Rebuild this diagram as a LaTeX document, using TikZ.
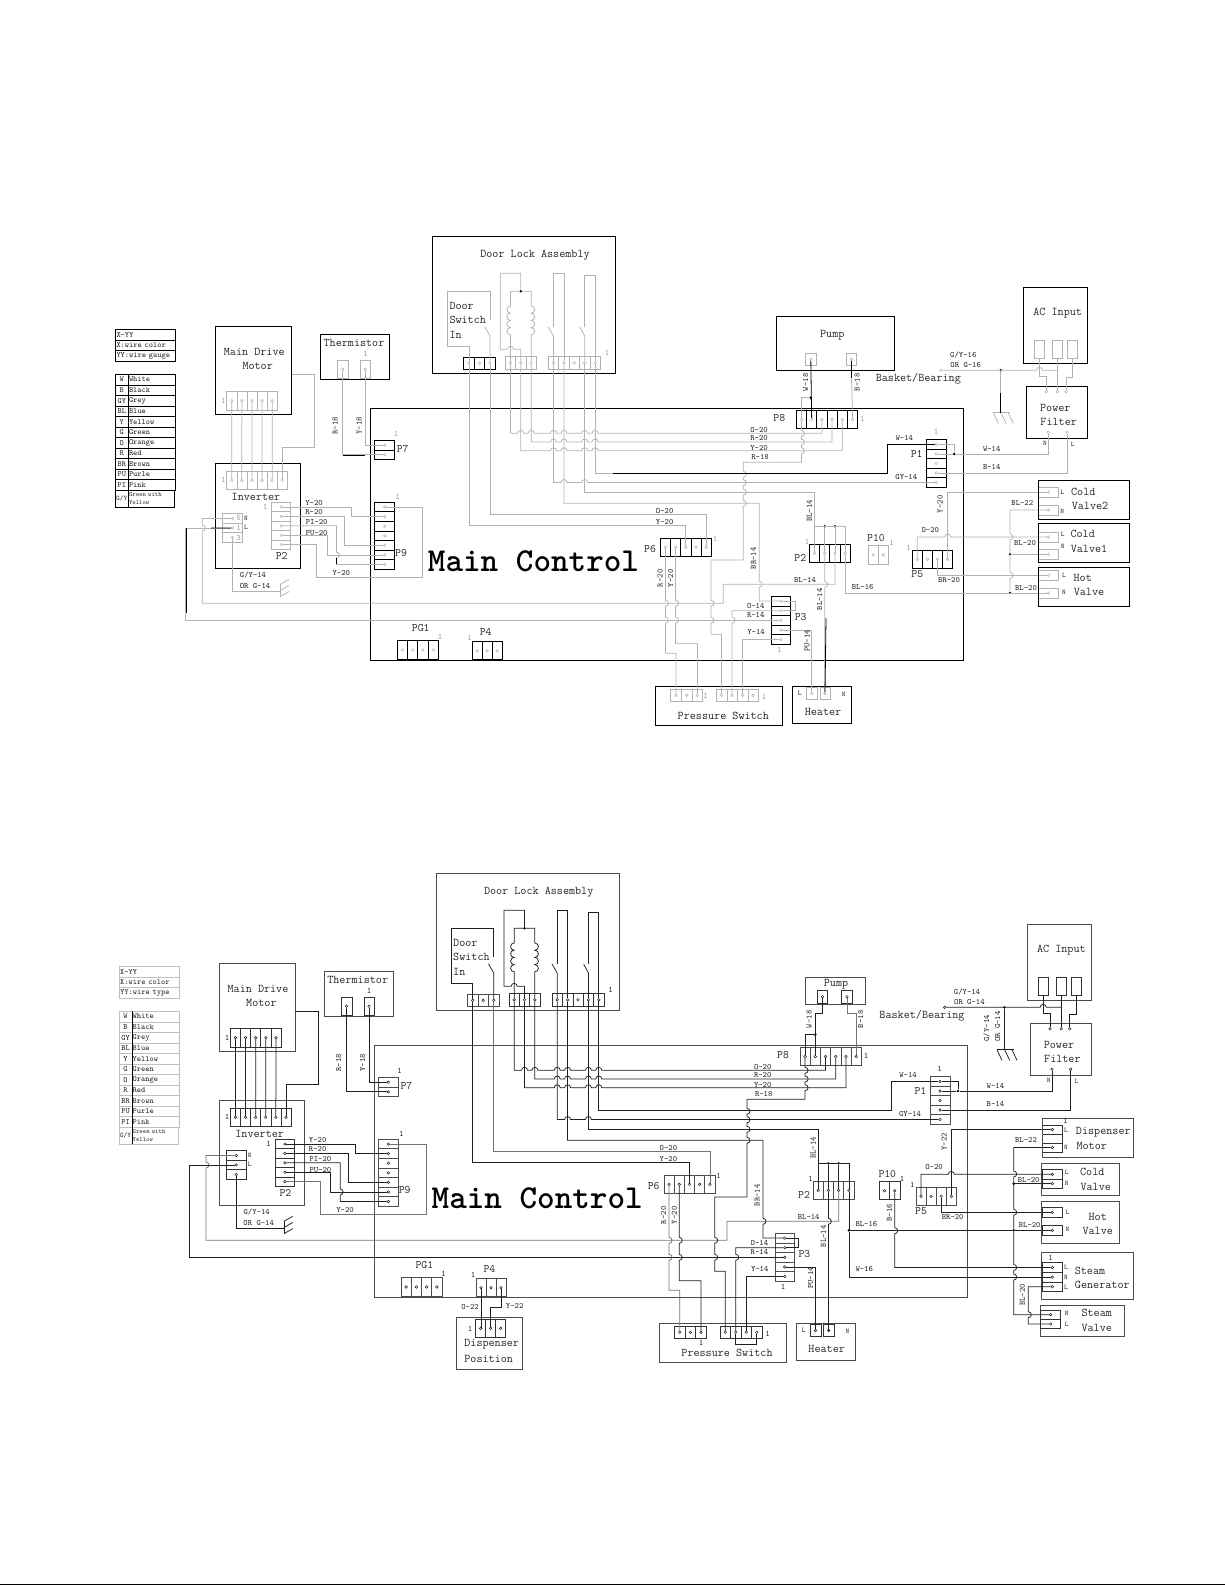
\documentclass[tikz,border=0pt]{standalone}
\colorlet{wirec}{black!30}
\colorlet{softc}{black!30}
\colorlet{darkc}{black}
\colorlet{boxc}{black}
\colorlet{connc}{black!30}
\colorlet{conkc}{black}
\colorlet{legc}{black}
\colorlet{onec}{black!40}
\colorlet{labc}{black!85}
\tikzset{
  box/.style={draw=boxc,line width=.8pt,inner sep=0pt,outer sep=0pt,anchor=north west},
  cell/.style={draw=connc,line width=.6pt,inner sep=0pt,outer sep=0pt},
  cellk/.style={draw=conkc,line width=.8pt,inner sep=0pt,outer sep=0pt},
  pinhole/.style={circle,draw=wirec,line width=.5pt,inner sep=0pt,minimum size=2.6pt},
  dot/.style={circle,fill=darkc,inner sep=0pt,minimum size=2.8pt},
  wire/.style={draw=wirec,line width=.75pt},
  soft/.style={draw=softc,line width=.75pt},
  dark/.style={draw=darkc,line width=.8pt},
  wl/.style={font=\ttfamily\fontsize{8.2}{9}\selectfont,inner sep=0pt,text=labc},
  wlr/.style={wl,rotate=90},
  head/.style={font=\ttfamily\fontsize{11.8}{13}\selectfont,inner sep=0pt,text=labc},
  pname/.style={font=\ttfamily\fontsize{11.4}{13}\selectfont,inner sep=0pt,text=labc},
  one/.style={font=\ttfamily\fontsize{8.5}{9}\selectfont,inner sep=0pt,text=onec},
  pole/.style={font=\ttfamily\fontsize{7}{8}\selectfont,inner sep=0pt,text=labc},
  leg/.style={draw=legc,line width=.7pt,inner sep=0pt,outer sep=0pt,anchor=north west,
    font=\ttfamily\fontsize{8}{9}\selectfont,text=labc}
}
\newcommand{\hop}{arc[start angle=180,end angle=0,radius=3pt]}
\newcommand{\dip}{arc[start angle=90,end angle=-90,radius=3pt]}
\newcommand{\swhops}[1]{-- (550.5,#1) \hop -- (560.9,#1) \hop -- (581.7,#1) \hop -- (592.1,#1) \hop}
\newcommand{\hconn}[7][cell]{%
  \foreach \i in {1,...,#5} {
    \node[#1,minimum width=#6pt,minimum height=#7pt] (#2-c\i) at ({#3+(\i-.5)*#6},{#4+#7/2}) {};
    \node[pinhole] (#2-\i) at (#2-c\i) {};
  }}
\newcommand{\vconn}[7][cell]{%
  \foreach \i in {1,...,#5} {
    \node[#1,minimum width=#6pt,minimum height=#7pt] (#2-c\i) at ({#3+#6/2},{#4+(\i-.5)*#7}) {};
    \node[pinhole] (#2-\i) at (#2-c\i) {};
  }}
\newcommand{\legendparts}[1]{%
  \foreach \n/\ry/\t in {1/329.3/X-YY,2/340/X:wire color,3/350.7/YY:wire #1}
    \node[leg,minimum width=60.4pt,minimum height=10.7pt,text width=58pt,align=left] (lgt\n) at (115.3,\ry) {\t};
  \foreach \n/\a/\b in {1/W/White,2/B/Black,3/GY/Grey,4/BL/Blue,5/Y/Yellow,6/G/Green,7/O/Orange,8/R/Red,9/BR/Brown,10/PU/Purle,11/PI/Pink} {
    \node[leg,minimum width=13pt,minimum height=10.55pt] (lga\n) at ({115.3},{374.3+(\n-1)*10.55}) {\a};
    \node[leg,minimum width=47.4pt,minimum height=10.55pt,text width=46pt,align=left] (lgb\n) at ({128.3},{374.3+(\n-1)*10.55}) {\b};
  }
  \node[leg,minimum width=13pt,minimum height=16.6pt,font=\ttfamily\fontsize{7}{8}\selectfont] (lga12) at (115.3,490.4) {G/Y};
  \node[leg,minimum width=46.4pt,minimum height=16.6pt,text width=45pt,align=left,font=\ttfamily\fontsize{6.4}{8}\selectfont] (lgb12) at (128.3,490.4) {Green with\\Yellow};
  \draw[dark] (lga1.north east) -- (lga12.south east);
}
\newcommand{\washer}{%
  \node[box,minimum width=593pt,minimum height=252pt] (main) at (370.3,408.3) {};
  \node[box,minimum width=183.4pt,minimum height=137pt] (door) at (432.3,236.3) {};
  \node[box,minimum width=76.4pt,minimum height=88pt] (motor) at (215.3,326.3) {};
  \node[box,minimum width=85.4pt,minimum height=105pt] (inverter) at (215.3,463.3) {};
  \node[box,minimum width=69pt,minimum height=45pt] (therm) at (320.3,334.3) {};
  \node[box,minimum width=64pt,minimum height=76pt] (acin) at (1023.3,287.3) {};
  \node[box,minimum width=61pt,minimum height=52pt] (filter) at (1026.3,386.3) {};
  \node[box,minimum width=127pt,minimum height=38.6pt] (pswitch) at (655.3,686.7) {};
  \node[box,minimum width=59pt,minimum height=36.6pt] (heater) at (792.3,686.7) {};
  \hconn{mot}{226.7}{391.3}{5}{10.12}{18.7}
  \hconn{inv}{226.7}{471.3}{6}{10.1}{18}
  \vconn{ip}{271.7}{502.3}{5}{19}{9.4}
  \vconn{term}{222.3}{513.7}{3}{20.4}{9.53}
  \hconn{thl}{337.3}{360.3}{1}{11}{18}
  \hconn{thr}{360.3}{360.3}{1}{10}{18}
  \vconn[cellk]{p7}{374.7}{440.3}{2}{20}{9.7}
  \vconn[cellk]{p9}{374.7}{502.3}{7}{20}{9.57}
  \hconn[cellk]{ds}{463.7}{357.3}{3}{10.53}{12}
  \hconn{cc}{505.3}{356.3}{3}{10.33}{13}
  \hconn{sw}{548.3}{356.3}{5}{10.4}{13}
  \hconn[cellk]{p8}{796.3}{410.3}{6}{10.23}{18.4}
  \vconn[cellk]{p1}{926.3}{439.7}{5}{20}{9.52}
  \hconn[cellk]{p6}{660.3}{538.3}{5}{10.2}{18}
  \hconn[cellk]{p2}{809.3}{544.3}{4}{10.25}{18}
  \hconn[cellk]{p5}{912.3}{550.3}{4}{10.1}{18}
  \vconn[cellk]{p3}{771.3}{596.3}{5}{19.4}{9.6}
  \hconn[cellk]{pg1}{397.3}{640.3}{4}{10.25}{19.4}
  \hconn[cellk]{p4}{472.3}{641.7}{3}{10}{18}
  \hconn{ps1}{670.7}{689.3}{3}{10.67}{12}
  \hconn{ps2}{716.3}{689.3}{4}{10.5}{12}
  \hconn{htl}{806.3}{687.7}{1}{11}{11.6}
  \hconn{htr}{819.8}{687.7}{1}{10.4}{11.6}
  \foreach \k/\x in {1/1039.5,2/1057.5,3/1072.5}
    \node[cell,minimum width=10.4pt,minimum height=18pt] (ac\k) at (\x,349.3) {};
  \foreach \k/\x in {1/1046.3,2/1057.5,3/1066}
    \node[pinhole] (pft\k) at (\x,391.7) {};
  \node[pinhole] (pfn) at (1048.3,432.3) {};
  \node[pinhole] (pfl) at (1067,432.3) {};
  \node[pinhole] (bsk) at (941,370.3) {};
  \node[dot] (gnd) at (1000.7,370.3) {};
  \node[dot] (coiltop) at (cc-2 |- 0,291.3) {};
  \node[dot] (bus2) at (p2-2 |- 0,526.3) {};
  \node[dot] (bus3) at (p2-3 |- 0,526.3) {};
  \node[dot] (p1d) at (954.3,0 |- p1-2) {};
  \foreach \i in {1,...,5}
    \draw[wire] (mot-\i) -- (inv-\i);
  \draw[wire] (motor.east |- 0,374.3) -| (314.3,447.7) -| (inv-6);
  \draw[wire] (ip-1) -| (351.5,0 |- p9-2) -- (p9-2);
  \draw[wire] (ip-2) -| (344.5,0 |- p9-5) -- (p9-5);
  \draw[wire] (ip-3) -| (336.5,552) \dip -- (336.5,0 |- p9-7) -- (p9-7);
  \draw[wire] (ip-4) -| (327,0 |- p9-6) -- (p9-6);
  \draw[soft] (ip-5) -| (316.3,577.3) -| (422.3,0 |- p9-1) -- (p9-1);
  \draw[wire] (thl-1) |- (p7-2);
  \draw[wire] (thr-1) |- (p7-1);
  \draw[wire] (term-3) |- (280.3,591);
  \draw[wire] (280.3,584.3) -- (280.3,596.7);
  \foreach \y in {584.3,590.5,596.7}
    \draw[wire] (280.3,\y) -- ++(8.7,-5);
  \draw[soft] (term-1) -| (202.3,525) \dip -- (202.3,603.3) -| (723.3,584.3) -| (p2-3);
  \draw[wire] (term-2) -| (185.6,0 |- p3-3) -- (p3-3);
  \draw[wire] (ds-1) |- (447.7,346.3) |- (ds-3 |- 0,291.3) -- (ds-3 |- 0,320);
  \draw[wire] (484.7,326.7) -- (ds-3 |- 0,336) -- (ds-3);
  \draw[soft] (ds-3) |- (p6-5 |- 0,514.3) -- (p6-5);
  \draw[wire] (ds-1) |- (p6-3 |- 0,525.3) -- (p6-3);
  \draw[wire] (coiltop) -| (cc-1 |- 0,306) \foreach \k in {1,...,4} {arc[start angle=90,end angle=270,radius=3.6pt]} -- (cc-1);
  \draw[wire] (coiltop) -| (cc-3 |- 0,306) \foreach \k in {1,...,4} {arc[start angle=90,end angle=-90,radius=3.6pt]} -- (cc-3);
  \draw[wire] (coiltop) -- (coiltop |- 0,273.3) -| (500.3,349.3) -- (507.5,349.3) \hop -- (cc-2 |- 0,349.3) -- (cc-2);
  \draw[wire] (548.3,327) -- (sw-1 |- 0,336) -- (sw-1);
  \draw[wire] (sw-1 |- 0,327) |- (sw-2 |- 0,273.3) -- (sw-2);
  \draw[wire] (580,327.3) -- (sw-4 |- 0,336) -- (sw-4);
  \draw[wire] (sw-4 |- 0,327) |- (sw-5 |- 0,275.7) -- (sw-5);
  \draw[wire] (cc-1) |- (517.8,433.3) \hop -- (528.2,433.3) \hop \swhops{433.3} -- (p8-3 |- 0,433.3) -- (p8-3);
  \draw[wire] (cc-3) |- (550.5,442) \hop -- (560.9,442) \hop -- (581.7,442) \hop -- (592.1,442) \hop -- (p8-4 |- 0,442) -- (p8-4);
  \draw[wire] (cc-2) |- (550.5,450.7) \hop -- (560.9,450.7) \hop -- (581.7,450.7) \hop -- (592.1,450.7) \hop -- (p8-5 |- 0,450.7) -- (p8-5);
  \draw[wire] (p8-1) -- (p8-1 |- 0,430.3) \dip -- (p8-1 |- 0,439) \dip -- (p8-1 |- 0,447.7) \dip -- (p8-1 |- 0,462.3) -| (743.3,471.3) \dip -- (743.3,479.7) \dip -- (743.3,489.3) \dip -- (743.3,500.3) \dip -- (743.3,560) -| (711,600.3) \dip -- (711,617.3) \dip -- (711,634.3) -| (ps2-1);
  \draw[wire] (sw-1) -- (sw-1 |- 0,482.5) -- (560.9,482.5) \hop -- (581.7,482.5) \hop -- (p1-5);
  \draw[wire] (sw-2) |- (759.3,503.3) -- (759.3,581.3) \dip -- (759.3,0 |- p3-1) -- (p3-1);
  \draw[wire] (sw-4) |- (p2-1 |- 0,492.3) -- (p2-1);
  \draw[wire] (sw-5) |- (887.3,473.3) |- (p1-1);
  \draw[wire] (p2-1 |- 0,526.3) -| (p2-4);
  \draw[wire] (bus2) -- (p2-2);
  \draw[wire] (bus3) -- (p2-3);
  \draw[wire] (p2-2) -- (p2-2 |- 0,581.3) \dip -- (p2-2 |- htr-1) -- (htr-1);
  \draw[soft] (p6-1) -- (p6-1 |- 0,600.3) \dip -- (p6-1 |- 0,617.3) \dip -- (p6-1 |- 0,653.3) -| (ps1-1);
  \draw[wire] (p6-2) -- (p6-2 |- 0,600.3) \dip -- (p6-2 |- 0,617.3) \dip -- (p6-2 |- 0,643.7) -| (ps1-3);
  \draw[wire] (p3-1) -| (795,0 |- p3-2) -- (p3-2);
  \draw[wire] (p3-2) -| (ps2-2 |- 0,617.3) \dip -- (ps2-2);
  \draw[wire] (p3-5) -| (ps2-3);
  \draw[wire] (p3-4) -| (htl-1);
  \draw[wire] (p1-1) -| (p1d);
  \draw[wire] (p1-2) -- (p1d);
  \draw[wire] (p1d) -| (pfn);
  \draw[wire] (p1-4) -| (pfl);
  \draw[wire] (ac1.south) -- (ac1.south |- 0,376.7) -| (pft1);
  \draw[wire] (ac2.south) -- (pft2);
  \draw[wire] (ac3.south) -- (ac3.south |- 0,377.3) -| (pft3);
  \draw[wire] (bsk) -- (1036.5,370.3) \hop -- (ac2.south |- 0,370.3);
  \draw[wire] (gnd) -- (1000.7,412.7);
  \draw[wire] (993.3,412.7) -- (1010,412.7);
  \foreach \x in {993.3,1001,1008.3}
    \draw[wire] (\x,412.7) -- ++(5,10.7);
  \foreach \t/\x/\y [count=\k] in {Y-20/314/502.7,R-20/314/512.3,PI-20/316.7/521.7,PU-20/316.7/532.7,Y-20/341.3/573,O-20/664.7/510.7,Y-20/664.7/522,O-20/759/429.7,R-20/759/438.3,Y-20/759/447.7,R-18/760/456.7,W-14/904.3/438,GY-14/906.3/476.7,W-14/991.7/449,B-14/991.7/467.3,BL-14/805/579.7,BL-16/862.7/587,O-14/755.7/606,R-14/755.7/615.3,Y-14/756/631.7,O-20/930.3/530.3,BR-20/949/580.3,BL-22/1022.3/503,BL-20/1025/543.3,BL-20/1026/588}
    \node[wl] (wlab\k) at (\x,\y) {\t};
  \foreach \t/\x/\y [count=\k] in {R-18/335/425.7,Y-18/359/425.7,W-18/805.5/382.3,B-18/857/382.3,BL-14/809.3/511,BR-14/753.3/558.3,R-20/660/578.3,Y-20/670.7/578.3,BL-14/819.5/599.3,PU-14/807/641}
    \node[wlr] (vlab\k) at (\x,\y) {\t};
  \node[wl] (gyinv) at (253,575.3) {G/Y-14};
  \node[wl] (orinv) at (255,585.7) {OR G-14};
  \foreach \t/\x/\y in {P7/402.7/449.3,P9/401/552.7,P2/281.7/556,P8/779.3/417.7,P1/916.7/453.7,P6/650/549,P2/800.3/558.3,P5/917.3/574.3,P3/800.7/616.7,PG1/420.7/627.7,P4/485.7/631.7}
    \node[pname] (n\t\x) at (\x,\y) {\t};
  \foreach \k/\x/\y in {1/223.3/401,2/223.3/480,3/265/507.3,4/397.7/497.3,5/396/434.3,6/365.3/354,7/607/352.7,8/862.3/418.7,9/936/432,10/715/539,11/807/542.3,12/908.7/548.3,13/779.3/650,14/764/696.7,15/440/637.3,16/469.3/637.7}
    \node[one] (one\k) at (\x,\y) {1};
  \foreach \k/\t/\x/\y in {1/Main Drive/254.3/351.7,2/Motor/257.7/366,3/Thermistor/354/342.7,4/Inverter/256/496.7,5/Door Lock Assembly/535/255,6/AC Input/1057.7/313,7/Power/1055.3/408,8/Filter/1058.7/422.3,9/Pressure Switch/723.3/716.3,10/Heater/823/712}
    \node[head] (head\k) at (\x,\y) {\t};
  \foreach \k/\t/\y in {1/Door/306,2/Switch/320,3/In/335}
    \node[head,anchor=west] (dsw\k) at (449.3,\y) {\t};
  \node[head,font=\ttfamily\bfseries\fontsize{33.5}{38}\selectfont,text=black] (mctrl) at (533.5,561) {Main Control};
  \node[head] (bb) at (918.3,378.7) {Basket/Bearing};
  \foreach \t/\x/\y in {N/246/518,L/246/527.7,N/1045/443.3,L/1072.7/444.3,L/799.7/693.3,N/843.7/694}
    \node[pole] (pl\t\x) at (\x,\y) {\t};
}
\newcommand{\valvewires}{%
  \node[dot] (bd1) at (1010,0 |- cvn-1) {};
  \node[dot] (bd2) at (1010,0 |- hvn-1) {};
  \draw[wire] (p5-1) -- (p5-1 |- cvl-1) -- (944.6,0 |- cvl-1) \hop -- (cvl-1);
  \draw[wire] (p5-4) |- (tvl-1);
  \draw[wire] (p5-3) |- (hvl-1);
  \draw[wire] (p2-4) |- (hvn-1);
  \draw[wire] (tvn-1) -| (1010,534) \dip -- (1010,572.3) \dip -- (bd2);
  \draw[wire] (bd1) -- (cvn-1);
}
\begin{document}
\begin{tikzpicture}[x=1pt,y=-1pt]
  \useasboundingbox (0,0) rectangle (1225,1585);
  \coordinate (pageleft) at (0,1584.4);
  \coordinate (pageright) at (1225,1584.4);
  \draw[line width=1pt] (pageleft) -- (pageright);
  \begin{scope}[name prefix=a-]
    \legendparts{gauge}
    \hconn{tvl}{1038.3}{487.3}{1}{20.4}{10}
    \hconn{tvn}{1038.3}{505}{1}{20.4}{10}
    \hconn{cvl}{1038.3}{532}{1}{20.4}{10}
    \hconn{cvn}{1038.3}{549.3}{1}{20.4}{10}
    \hconn{hvl}{1038.3}{570.3}{1}{20.4}{10}
    \hconn{hvn}{1038.3}{588}{1}{20.4}{10}
    \washer
    \valvewires
    \node[box,minimum width=118pt,minimum height=54pt] (pump) at (776.3,316.3) {};
    \hconn{pml}{805.3}{353}{1}{11}{12.7}
    \hconn{pmr}{846.3}{353}{1}{10.4}{12.7}
    \node[box,minimum width=91pt,minimum height=39pt] (cv2) at (1038.3,480.3) {};
    \node[box,minimum width=91pt,minimum height=39pt] (cv1) at (1038.3,523.3) {};
    \node[box,minimum width=91pt,minimum height=39pt] (hot) at (1038.3,567.3) {};
    \hconn{p10}{868.3}{545.3}{2}{10}{19}
    \node[dot] (w18d) at (pml-1 |- 0,397.7) {};
    \draw[dark] (pml-1) -- (p8-2);
    \draw[wire] (w18d) -| (p8-1);
    \draw[dark] (pmr-1) -- (pmr-1 |- 0,378);
    \draw[wire] (pmr-1 |- 0,378) -- (p8-6);
    \draw[dark] (342.7,455.3) -- (365,455.3);
    \draw[dark] (186,528) -- (186,613);
    \draw[dark] (211,528) -- (term-2);
    \draw[dark] (826,618) -- (htr-1);
    \draw[dark] (1000.7,393.3) -- (1000.7,412.7);
    \draw[dark] (336.5,558) -- (336.5,564);
    \draw[dark] (613,473.3) -| (887.3,455) |- (p1-1);
    \foreach \k/\t/\x/\y in {1/Pump/832.3/335.3,2/Cold/1083.3/491.7,3/Valve2/1090/506,4/Cold/1082.7/534,5/Valve1/1089/548.7,6/Hot/1082.7/577.7,7/Valve/1089/592.3}
      \node[head] (vt\k) at (\x,\y) {\t};
    \node[pname] (n10) at (876,537.7) {P10};
    \node[one] (o10) at (891.7,543.3) {1};
    \node[one] (opa) at (705.3,695.7) {1};
    \foreach \k/\t/\y in {1/5/518,2/1/528,3/3/537.5}
      \node[one] (trm\k) at (238.5,\y) {\t};
    \foreach \t/\x/\y in {L/1062.3/492.7,N/1062.3/511,L/1062.7/534,N/1062.7/546,L/1064/575,N/1064/592}
      \node[pole] (vp\t\y) at (\x,\y) {\t};
    \node[wl] (gy16) at (963.3,354.7) {G/Y-16};
    \node[wl] (or16) at (965.7,365) {OR G-16};
    \node[wlr] (y20p5) at (940,504.3) {Y-20};
  \end{scope}
  \begin{scope}[name prefix=b-,shift={(3.7,637)}]
    \colorlet{wirec}{black!88}
    \colorlet{softc}{black!55}
    \colorlet{boxc}{black!70}
    \colorlet{connc}{black!80}
    \colorlet{conkc}{black!70}
    \colorlet{legc}{black!25}
    \colorlet{onec}{black!85}
    \legendparts{type}
    \hconn{tvl}{1038.7}{488}{1}{20}{9}
    \hconn{tvn}{1038.7}{506}{1}{20}{9}
    \node[cell,minimum width=20pt,minimum height=9pt] (tvm) at (1048.7,501.5) {};
    \hconn{cvl}{1038.7}{532.7}{1}{20}{9.3}
    \hconn{cvn}{1038.7}{542}{1}{20}{9.3}
    \hconn{hvl}{1038.7}{570.3}{1}{20}{10}
    \hconn{hvn}{1038.7}{588.3}{1}{20}{10}
    \washer
    \valvewires
    \node[box,minimum width=60pt,minimum height=27pt] (pump) at (802,340.3) {};
    \hconn{pml}{813.6}{353}{1}{10.4}{13.3}
    \hconn{pmr}{838}{353}{1}{10.6}{13.3}
    \node[box,minimum width=91pt,minimum height=39.3pt] (dm) at (1038.6,481) {};
    \node[box,minimum width=77.3pt,minimum height=31.3pt] (cold) at (1038,526.7) {};
    \node[box,minimum width=77.6pt,minimum height=42pt] (hot) at (1038,564.3) {};
    \node[box,minimum width=91.6pt,minimum height=46.6pt] (sgen) at (1038,615.7) {};
    \node[box,minimum width=83.6pt,minimum height=30.3pt] (svalve) at (1037,668.7) {};
    \node[box,minimum width=66pt,minimum height=51.7pt] (dpos) at (453,680.3) {};
    \vconn{sg}{1038.7}{625.7}{3}{20}{9.6}
    \vconn{sv}{1037}{673}{2}{20}{9.3}
    \hconn{dp}{472}{682.3}{3}{10}{18}
    \hconn{p10}{875.6}{544.7}{2}{10.3}{18}
    \node[dot] (w18d) at (p8-2 |- 0,397.7) {};
    \node[dot] (w16d) at (p2-4 |- hvn-1) {};
    \draw[wire] (pml-1) |- (p8-2 |- 0,376.3) -- (p8-2);
    \draw[wire] (w18d) -| (p8-1);
    \draw[soft] (pmr-1) |- (p8-6 |- 0,376.3) -- (p8-6);
    \draw[wire] (w16d) |- (sg-2);
    \draw[wire] (p10-2) -- (p10-2 |- 0,590.7) \dip -- (p10-2 |- sg-1) -- (sg-1);
    \draw[wire] (bd2) -- (1010,627.5) \dip -- (1010,637.1) \dip -- (1010,0 |- sv-1) -- (sv-1);
    \draw[wire] (sg-3) -| (1024.6,674.7) \dip -- (1024.6,0 |- sv-2) -- (sv-2);
    \draw[wire] (p4-1) -- (p4-1 |- dp-1) -- (dp-1);
    \draw[wire] (p4-3) -- (p4-3 |- 0,670.7) -| (dp-2);
    \draw[wire] (ps2-2) |- (ps2-4 |- 0,707) -- (ps2-4);
    \foreach \k/\t/\x/\y in {1/Pump/832.3/347,2/Dispenser/1099.6/494.7,3/Motor/1088/509.3,4/Cold/1088.6/535.3,5/Valve/1092/549.7,6/Hot/1094/579.7,7/Valve/1094/594,8/Steam/1086.3/633.7,9/Generator/1098.6/648,10/Steam/1093/676.3,11/Valve/1093/690.7,12/Dispenser/488/707.3,13/Position/485/722}
      \node[head] (vt\k) at (\x,\y) {\t};
    \node[pname] (n10) at (883.6,536.7) {P10};
    \foreach \k/\x/\y in {1/898.3/542.3,2/1061.6/484,3/1047/621.3,4/466.3/692,5/697.3/706.3}
      \node[one] (on\k) at (\x,\y) {1};
    \foreach \k/\t/\x/\y in {1/L/1062.3/493.3,2/N/1062.3/510.7,3/L/1063/535,4/N/1063/546.3,5/L/1063.7/575,6/N/1063.7/592.5,7/L/1062.3/630.5,8/N/1062.3/640,9/L/1062.3/650,10/N/1063/676.3,11/L/1063/687.3}
      \node[pole] (vp\k) at (\x,\y) {\t};
    \node[wl] (gy14) at (963.3,354.7) {G/Y-14};
    \node[wl] (or14) at (965.7,365) {OR G-14};
    \node[wlr] (gy14r) at (983,391.3) {G/Y-14};
    \node[wlr] (or14r) at (994,389.7) {OR G-14};
    \foreach \k/\t/\x/\y in {1/O-22/466.3/669.7,2/Y-22/511/668.7,3/W-16/860.6/632.3}
      \node[wl] (wb\k) at (\x,\y) {\t};
    \foreach \k/\t/\x/\y in {1/Y-22/940.3/504.7,2/B-16/885.6/575.7,3/BL-20/1018.6/658}
      \node[wlr] (vb\k) at (\x,\y) {\t};
  \end{scope}
\end{tikzpicture}
\end{document}
